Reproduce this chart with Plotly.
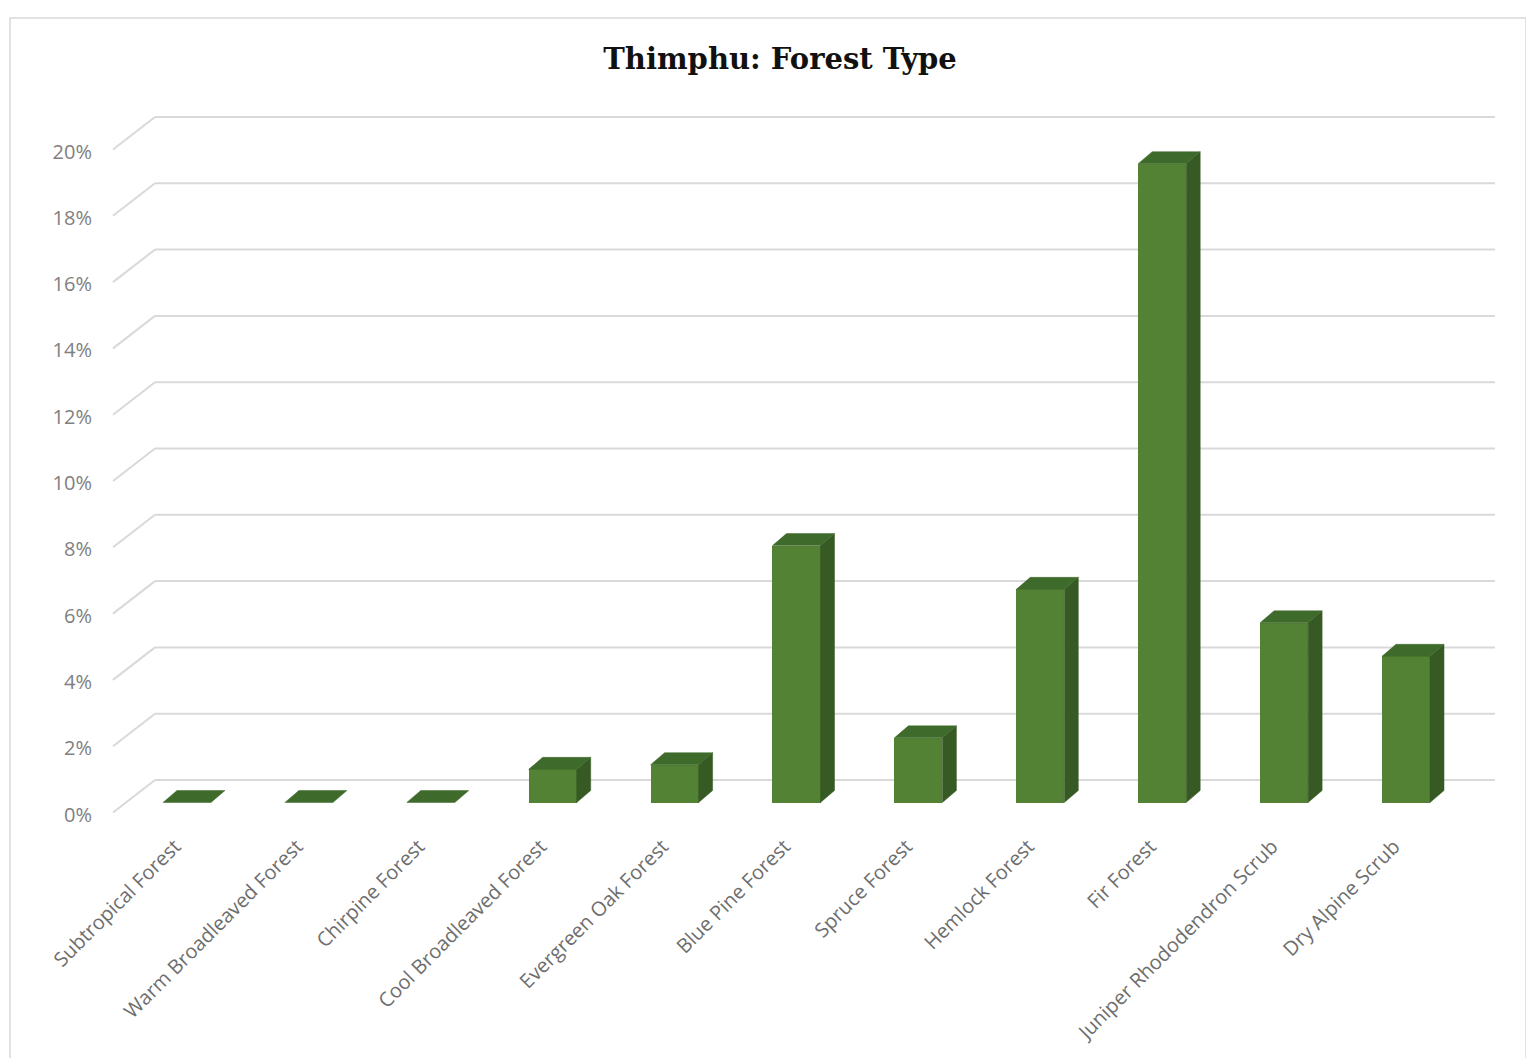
import plotly.graph_objects as go

categories = ["Subtropical Forest", "Warm Broadleaved Forest", "Chirpine Forest",
              "Cool Broadleaved Forest", "Evergreen Oak Forest", "Blue Pine Forest",
              "Spruce Forest", "Hemlock Forest", "Fir Forest",
              "Juniper Rhododendron Scrub", "Dry Alpine Scrub"]
values = [0.0, 0.0, 0.0, 1.0, 1.14, 7.75, 1.95, 6.43, 19.27, 5.42, 4.41]
y_ticks = [0, 2, 4, 6, 8, 10, 12, 14, 16, 18, 20]
y_tick_labels = [f"{t}%" for t in y_ticks]

# page offset (body margin) compensation
OFF = 8
W, H = 1534 - OFF, 1058 - OFF
L, R, T, B = 100 - OFF, 1510 - OFF, 100 - OFF, 830 - OFF
PX_CAT = 121.9      # pixels per category
PX_PCT = 33.15      # pixels per percent
X0_PX = 187.0 - OFF       # centre of first bar
Y0_PX = 802.5 - OFF       # bar baseline
xr = [(L - X0_PX) / PX_CAT, (R - X0_PX) / PX_CAT]
yr = [(Y0_PX - B) / PX_PCT, (Y0_PX - T) / PX_PCT]

bar_w = 0.394
dx = 14 / PX_CAT
dy = 12 / PX_PCT

FRONT = "#548235"
SIDE = "#375a24"
TOP = "#3e6a2b"

xs = list(range(len(categories)))

fig = go.Figure()

# side faces
sx, sy = [], []
for i, v in zip(xs, values):
    if v <= 0:
        continue
    x1 = i + bar_w / 2
    sx += [x1, x1, x1 + dx, x1 + dx, x1, None]
    sy += [0, v, v + dy, dy, 0, None]
fig.add_trace(go.Scatter(x=sx, y=sy, mode="lines", fill="toself", fillcolor=SIDE,
                         line=dict(width=0.5, color=SIDE), hoverinfo="skip", showlegend=False))
# top faces
tx, ty = [], []
for i, v in zip(xs, values):
    x0 = i - bar_w / 2
    x1 = i + bar_w / 2
    tx += [x0, x1, x1 + dx, x0 + dx, x0, None]
    ty += [v, v, v + dy, v + dy, v, None]
fig.add_trace(go.Scatter(x=tx, y=ty, mode="lines", fill="toself", fillcolor=TOP,
                         line=dict(width=0.5, color=TOP), hoverinfo="skip", showlegend=False))
# front faces
fig.add_trace(go.Bar(x=xs, y=values, width=bar_w, marker=dict(color=FRONT, line=dict(width=0)),
                     showlegend=False, hovertemplate="%{text}: %{y:.2f}%<extra></extra>",
                     text=categories, textposition="none"))

# back wall gridlines + floor diagonals
back_dy = 22.5 / PX_PCT
front_dy = -10 / PX_PCT
xl_back = (155 - OFF - X0_PX) / PX_CAT
xl_front = (113 - OFF - X0_PX) / PX_CAT
x_right = (1495 - OFF - X0_PX) / PX_CAT
shapes = []
gcol = "#d9d9d9"
for t in y_ticks:
    shapes.append(dict(type="line", xref="x", yref="y", x0=xl_back, x1=x_right,
                       y0=t + back_dy, y1=t + back_dy, line=dict(color=gcol, width=2), layer="below"))
    shapes.append(dict(type="line", xref="x", yref="y", x0=xl_front, x1=xl_back,
                       y0=t + front_dy, y1=t + back_dy, line=dict(color=gcol, width=2), layer="below"))
# chart border
shapes.append(dict(type="rect", xref="paper", yref="paper",
                   x0=(10 - OFF - L) / (R - L), x1=(1526 - OFF - L) / (R - L),
                   y0=(B - (1062 - OFF)) / (B - T), y1=(B - (18 - OFF)) / (B - T),
                   line=dict(color="#d9d9d9", width=1.5), layer="below"))

fig.update_layout(
    width=W, height=H,
    margin=dict(l=L, r=W - R, t=T, b=H - B),
    paper_bgcolor="white", plot_bgcolor="white",
    title=dict(text="<b>Thimphu: Forest Type</b>", x=(780 - OFF) / W, xanchor="center",
               y=1 - (59 - OFF) / H, yanchor="middle",
               font=dict(family="DejaVu Serif", size=29, color="#111111")),
    shapes=shapes,
    bargap=0,
    xaxis=dict(range=xr, tickmode="array", tickvals=xs, ticktext=categories, tickangle=-45,
               showgrid=False, zeroline=False, showline=False, ticks="",
               ticklabelshift=-12,
               tickfont=dict(family="Open Sans", size=20, color="#6e6e6e")),
    yaxis=dict(range=yr, tickmode="array", tickvals=y_ticks, ticktext=y_tick_labels,
               showgrid=False, zeroline=False, showline=False, ticks="",
               ticklabelshift=12, ticklabelstandoff=7,
               tickfont=dict(family="Open Sans", size=20, color="#808080")),
)

fig.write_html("out.html")
